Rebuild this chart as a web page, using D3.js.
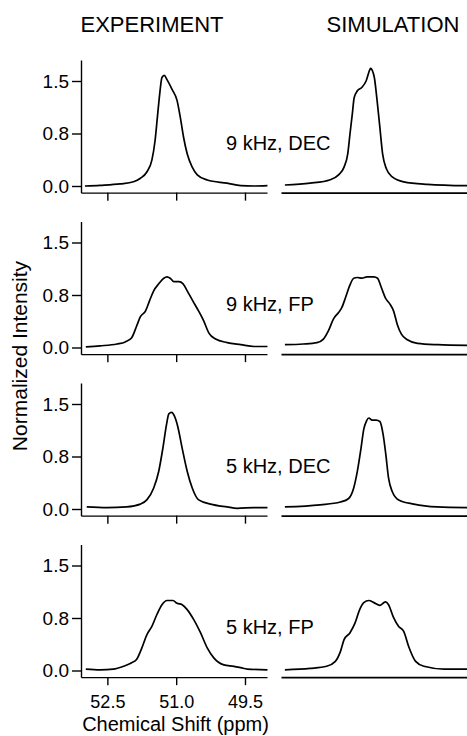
<!DOCTYPE html>
<html>
<head>
<meta charset="utf-8">
<script src="https://cdn.jsdelivr.net/npm/d3@7"></script>
<style>
  html, body { margin: 0; padding: 0; background: #fff; }
  svg { display: block; font-family: "Liberation Sans", Arial, Helvetica, sans-serif; }
</style>
</head>
<body>
<svg id="chart" width="467" height="736"></svg>
<script>
// ---------------- DATA ----------------
const columnTitles = ["EXPERIMENT", "SIMULATION"];
const panelLabels = ["9 kHz, DEC", "9 kHz, FP", "5 kHz, DEC", "5 kHz, FP"];
const xTickValues = [52.5, 51.0, 49.5];
const xTickLabels = ["52.5", "51.0", "49.5"];
const yTickValues = [0, 0.75, 1.5];
const yTickLabels = ["0.0", "0.8", "1.5"];
const xAxisTitle = "Chemical Shift (ppm)";
const yAxisTitle = "Normalized Intensity";

// 9 kHz, DEC
const exp9DecPpm = [52.99, 52.66, 52.22, 51.93, 51.78, 51.64, 51.53, 51.46, 51.41, 51.36, 51.31, 51.26, 51.20, 51.09, 50.98, 50.91, 50.84, 50.76, 50.65, 50.54, 50.32, 49.89, 49.59, 49.30, 49.01];
const exp9DecInt = [0.00, 0.01, 0.03, 0.06, 0.11, 0.20, 0.37, 0.65, 0.98, 1.31, 1.55, 1.58, 1.52, 1.38, 1.22, 0.98, 0.70, 0.46, 0.27, 0.16, 0.085, 0.04, 0.005, 0.00, 0.005];
const sim9DecPpm = [52.99, 52.44, 52.00, 51.82, 51.70, 51.62, 51.57, 51.52, 51.48, 51.41, 51.31, 51.22, 51.14, 51.12, 51.09, 51.04, 50.98, 50.92, 50.86, 50.78, 50.65, 50.40, 49.88, 49.01];
const sim9DecInt = [0.014, 0.04, 0.09, 0.16, 0.27, 0.46, 0.75, 1.03, 1.26, 1.36, 1.41, 1.50, 1.66, 1.68, 1.66, 1.55, 1.22, 0.84, 0.46, 0.25, 0.13, 0.06, 0.024, 0.004];

// 9 kHz, FP
const exp9FpPpm = [52.97, 52.66, 52.29, 52.11, 51.97, 51.86, 51.78, 51.67, 51.58, 51.49, 51.38, 51.27, 51.20, 51.13, 51.05, 50.94, 50.85, 50.76, 50.65, 50.51, 50.40, 50.29, 50.14, 49.89, 49.59, 49.30, 49.01];
const exp9FpInt = [0.01, 0.024, 0.05, 0.08, 0.14, 0.31, 0.44, 0.52, 0.67, 0.81, 0.91, 0.99, 1.01, 0.99, 0.94, 0.94, 0.91, 0.81, 0.68, 0.52, 0.38, 0.21, 0.12, 0.07, 0.04, 0.014, 0.014];
const sim9FpPpm = [52.99, 52.59, 52.29, 52.15, 52.04, 51.93, 51.82, 51.75, 51.67, 51.58, 51.49, 51.41, 51.31, 51.20, 51.05, 50.97, 50.89, 50.80, 50.70, 50.62, 50.54, 50.45, 50.32, 50.10, 49.66, 49.01];
const sim9FpInt = [0.04, 0.05, 0.07, 0.12, 0.24, 0.41, 0.50, 0.57, 0.71, 0.88, 0.99, 1.00, 0.99, 1.01, 1.01, 0.99, 0.86, 0.71, 0.62, 0.52, 0.33, 0.19, 0.11, 0.06, 0.04, 0.03];

// 5 kHz, DEC
const exp5DecPpm = [52.95, 52.51, 52.08, 51.78, 51.64, 51.49, 51.38, 51.29, 51.21, 51.16, 51.10, 51.04, 50.97, 50.87, 50.76, 50.65, 50.51, 50.25, 49.89, 49.67, 49.30, 49.01];
const exp5DecInt = [0.03, 0.02, 0.03, 0.07, 0.13, 0.30, 0.54, 0.87, 1.21, 1.36, 1.38, 1.33, 1.19, 0.87, 0.54, 0.30, 0.13, 0.07, 0.03, 0.01, 0.02, 0.02];
const sim5DecPpm = [52.99, 52.22, 51.78, 51.60, 51.49, 51.41, 51.33, 51.27, 51.21, 51.16, 51.09, 51.00, 50.92, 50.85, 50.79, 50.73, 50.65, 50.51, 50.18, 49.67, 49.01];
const sim5DecInt = [0.03, 0.06, 0.10, 0.15, 0.30, 0.54, 0.87, 1.14, 1.26, 1.30, 1.27, 1.27, 1.25, 1.07, 0.78, 0.44, 0.25, 0.13, 0.07, 0.03, 0.02];

// 5 kHz, FP
const exp5FpPpm = [52.97, 52.66, 52.37, 52.15, 51.97, 51.86, 51.75, 51.64, 51.53, 51.42, 51.31, 51.20, 51.07, 50.98, 50.87, 50.76, 50.62, 50.47, 50.32, 50.18, 49.96, 49.74, 49.59, 49.45, 49.01];
const exp5FpInt = [0.02, 0.01, 0.02, 0.06, 0.11, 0.16, 0.32, 0.51, 0.63, 0.80, 0.94, 1.00, 1.00, 0.96, 0.94, 0.87, 0.73, 0.54, 0.32, 0.18, 0.08, 0.06, 0.04, 0.02, 0.01];
const sim5FpPpm = [52.99, 52.44, 52.08, 51.89, 51.78, 51.70, 51.57, 51.46, 51.36, 51.27, 51.16, 51.05, 50.92, 50.80, 50.73, 50.63, 50.51, 50.40, 50.29, 50.14, 49.96, 49.52, 49.01];
const sim5FpInt = [0.01, 0.03, 0.06, 0.13, 0.27, 0.44, 0.54, 0.68, 0.87, 0.97, 1.00, 0.97, 0.93, 0.98, 0.94, 0.77, 0.63, 0.56, 0.34, 0.13, 0.06, 0.02, 0.02];

const experimentSeries = [
  [exp9DecPpm, exp9DecInt], [exp9FpPpm, exp9FpInt],
  [exp5DecPpm, exp5DecInt], [exp5FpPpm, exp5FpInt]
];
const simulationSeries = [
  [sim9DecPpm, sim9DecInt], [sim9FpPpm, sim9FpInt],
  [sim5DecPpm, sim5DecInt], [sim5FpPpm, sim5FpInt]
];

// ---------------- LAYOUT ----------------
const svg = d3.select("#chart");
const leftX0 = 81, panelW = 186, rightX0 = 281;
const zeroY0 = 186, panelStep = 161.5, pxPerUnit = 70;
const yDomain = [-0.095, 1.8];
const ink = "#000";
const fontFam = "'Liberation Sans', Arial, sans-serif";

const xLeft = d3.scaleLinear().domain([53.075, 49.02]).range([leftX0, leftX0 + panelW]);
const xRight = d3.scaleLinear().domain([53.075, 49.02]).range([rightX0, rightX0 + panelW]);

// column titles
svg.append("text").attr("x", 152).attr("y", 31.5).attr("text-anchor", "middle")
  .attr("font-size", 22).attr("fill", ink).text(columnTitles[0]);
svg.append("text").attr("x", 393).attr("y", 31.5).attr("text-anchor", "middle")
  .attr("font-size", 22).attr("fill", ink).text(columnTitles[1]);

panelLabels.forEach((label, i) => {
  const y0 = zeroY0 + i * panelStep;
  const yScale = d3.scaleLinear().domain(yDomain)
    .range([y0 - yDomain[0] * pxPerUnit, y0 - yDomain[1] * pxPerUnit]);
  const axisY = yScale(yDomain[0]);

  // left y axis
  const yAxis = d3.axisLeft(yScale).tickValues(yTickValues)
    .tickFormat((d, k) => yTickLabels[k]).tickSize(9).tickSizeOuter(0).tickPadding(3);
  const gy = svg.append("g").attr("transform", `translate(${leftX0},0)`).call(yAxis);
  gy.selectAll("path, line").attr("stroke", ink).attr("stroke-width", 1.4);
  gy.selectAll("text").attr("font-size", 19).attr("fill", ink).attr("font-family", fontFam);

  // left x axis
  const xAxis = d3.axisBottom(xLeft).tickValues(xTickValues)
    .tickFormat((d, k) => i === panelLabels.length - 1 ? xTickLabels[k] : "")
    .tickSize(8).tickSizeOuter(0).tickPadding(10.5);
  const gx = svg.append("g").attr("transform", `translate(0,${axisY})`).call(xAxis);
  gx.selectAll("path, line").attr("stroke", ink).attr("stroke-width", 1.4);
  gx.selectAll("text").attr("font-size", 18).attr("fill", ink).attr("font-family", fontFam);

  // right baseline (axis without ticks)
  const gr = svg.append("g").attr("transform", `translate(0,${axisY})`)
    .call(d3.axisBottom(xRight).tickValues([]).tickSizeOuter(0));
  gr.selectAll("path").attr("stroke", ink).attr("stroke-width", 1.6);

  // spectra
  const drawSpectrum = (xs, pair) => {
    const [ppm, inten] = pair;
    const pts = ppm.map((p, k) => [xs(p), yScale(inten[k])]);
    svg.append("path")
      .attr("d", d3.line().curve(d3.curveMonotoneX)(pts))
      .attr("fill", "none").attr("stroke", ink).attr("stroke-width", 1.7)
      .attr("stroke-linejoin", "round");
  };
  drawSpectrum(xLeft, experimentSeries[i]);
  drawSpectrum(xRight, simulationSeries[i]);

  // panel label
  svg.append("text").attr("x", 226).attr("y", y0 - 36.5)
    .attr("font-size", 20).attr("fill", ink).text(label);
});

// axis titles
svg.append("text").attr("x", 175.5).attr("y", 731).attr("text-anchor", "middle")
  .attr("font-size", 20).attr("fill", ink).text(xAxisTitle);
svg.append("text").attr("transform", "translate(27,356) rotate(-90)")
  .attr("text-anchor", "middle").attr("font-size", 21).attr("fill", ink).text(yAxisTitle);
</script>
</body>
</html>
